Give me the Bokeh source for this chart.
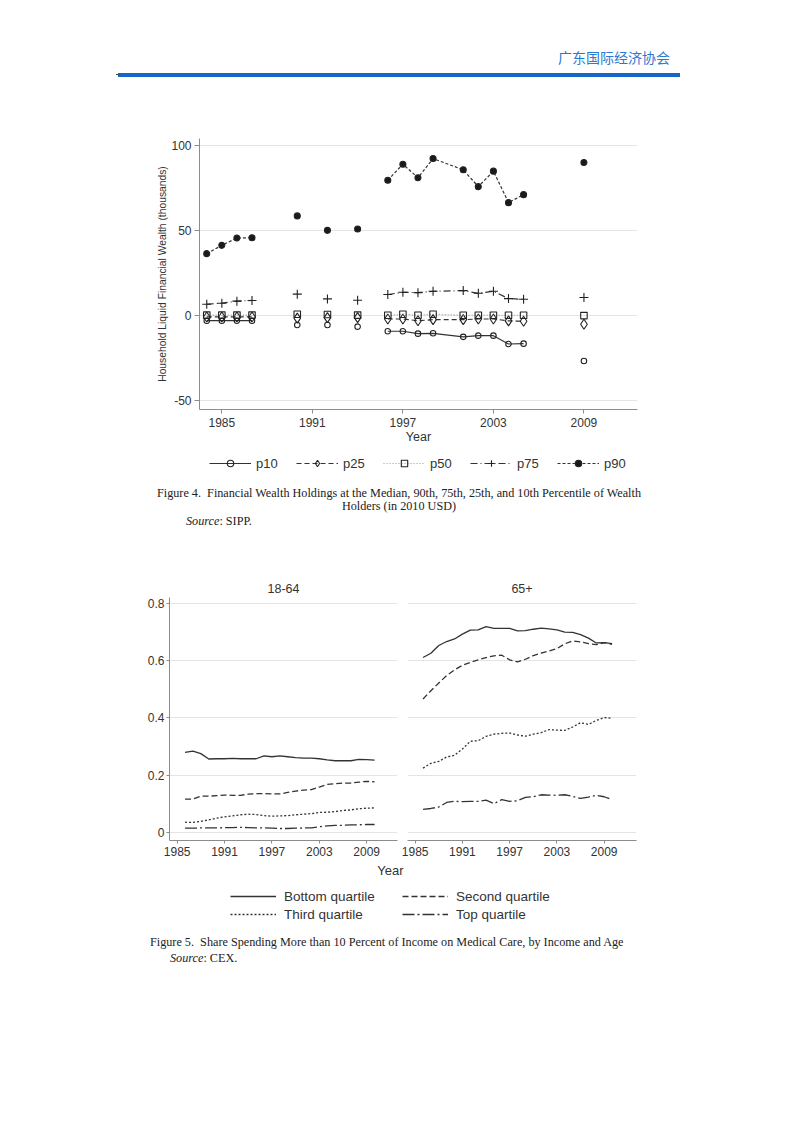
import numpy as np
from bokeh.plotting import figure
from bokeh.models import (Legend, LegendItem, FixedTicker, Div, NumeralTickFormatter, Label)
from bokeh.layouts import column, row
from bokeh.embed import file_html
from bokeh.resources import INLINE

# ---------------- Figure 4 data (thousands of 2010 USD) ----------------
years4 = [1984, 1985, 1986, 1987, 1990, 1992, 1994, 1996, 1997, 1998, 1999,
          2001, 2002, 2003, 2004, 2005, 2009]
panel4 = [1, 1, 1, 1, 2, 3, 4, 5, 5, 5, 5, 5, 5, 5, 5, 5, 6]
p10 = [-3.0, -3.0, -3.0, -3.0, -5.5, -5.5, -6.5, -9.2, -9.2, -10.6, -10.4,
       -12.5, -11.8, -11.8, -16.7, -16.5, -26.7]
p25 = [-0.8, -0.8, -0.8, -0.8, -1.5, -1.2, -1.2, -2.0, -2.0, -3.0, -2.4,
       -2.4, -2.0, -2.0, -3.1, -3.3, -5.1]
p50 = [0.3, 0.3, 0.3, 0.3, 0.8, 0.6, 0.3, 0.2, 0.8, 0.2, 0.8,
       0.2, 0.2, 0.2, 0.2, 0.2, 0.0]
p75 = [6.7, 7.3, 8.5, 8.9, 12.6, 9.8, 9.0, 12.4, 13.7, 13.5, 14.3,
       14.7, 13.1, 14.3, 10.0, 9.6, 10.6]
p90 = [36.4, 41.3, 45.6, 45.8, 58.6, 50.1, 50.9, 79.6, 89.0, 81.0, 92.3,
       85.7, 75.8, 84.9, 66.4, 71.1, 90.0]
series4 = ["p10", "p25", "p50", "p75", "p90"]
xticks4 = [1985, 1991, 1997, 2003, 2009]
yticks4 = [-50, 0, 50, 100]
ylabels4 = {-50: "-50", 0: "0", 50: "50", 100: "100"}

# ---------------- Figure 5 data (share) ----------------
years5 = [1986, 1987, 1988, 1989, 1990, 1991, 1992, 1993, 1994, 1995, 1996,
          1997, 1998, 1999, 2000, 2001, 2002, 2003, 2004, 2005, 2006, 2007,
          2008, 2009, 2010]
bottom_young = [0.279, 0.284, 0.275, 0.256, 0.257, 0.257, 0.258, 0.257, 0.257, 0.257,
                0.267, 0.264, 0.267, 0.264, 0.261, 0.259, 0.259, 0.257, 0.253, 0.250,
                0.250, 0.250, 0.255, 0.254, 0.252]
second_young = [0.116, 0.116, 0.126, 0.126, 0.128, 0.130, 0.129, 0.129, 0.133, 0.135,
                 0.135, 0.134, 0.134, 0.139, 0.144, 0.147, 0.149, 0.158, 0.167, 0.170,
                 0.172, 0.172, 0.175, 0.178, 0.176]
third_young = [0.035, 0.034, 0.038, 0.043, 0.049, 0.054, 0.057, 0.061, 0.063, 0.062,
               0.058, 0.056, 0.057, 0.058, 0.061, 0.063, 0.065, 0.069, 0.070, 0.072,
               0.076, 0.078, 0.082, 0.084, 0.085]
top_young = [0.014, 0.014, 0.015, 0.015, 0.015, 0.016, 0.016, 0.017, 0.016, 0.015,
             0.015, 0.014, 0.013, 0.013, 0.014, 0.015, 0.015, 0.019, 0.022, 0.024,
             0.024, 0.026, 0.026, 0.027, 0.027]
bottom_old = [0.611, 0.626, 0.653, 0.667, 0.676, 0.693, 0.707, 0.708, 0.719, 0.713,
              0.713, 0.713, 0.704, 0.705, 0.710, 0.714, 0.711, 0.708, 0.700, 0.699,
              0.691, 0.679, 0.662, 0.663, 0.660]
second_old = [0.466, 0.495, 0.522, 0.548, 0.568, 0.584, 0.594, 0.603, 0.611, 0.617,
              0.619, 0.603, 0.596, 0.605, 0.618, 0.626, 0.634, 0.642, 0.659, 0.669,
              0.666, 0.660, 0.656, 0.663, 0.657]
third_old = [0.224, 0.241, 0.248, 0.263, 0.269, 0.291, 0.318, 0.320, 0.335, 0.343,
             0.346, 0.347, 0.340, 0.336, 0.343, 0.348, 0.359, 0.357, 0.356, 0.368,
             0.383, 0.377, 0.391, 0.401, 0.399]
top_old = [0.080, 0.083, 0.088, 0.104, 0.108, 0.107, 0.108, 0.108, 0.112, 0.100,
           0.114, 0.108, 0.110, 0.122, 0.124, 0.131, 0.130, 0.129, 0.131, 0.125,
           0.118, 0.123, 0.129, 0.124, 0.114]
quartiles = ["Bottom quartile", "Second quartile", "Third quartile", "Top quartile"]
panels5 = ["18-64", "65+"]
xticks5 = [1985, 1991, 1997, 2003, 2009]
yticks5 = [0, 0.2, 0.4, 0.6, 0.8]

FONT = "Liberation Sans"
INK = "#333333"
AXIS = "#8c8c8c"
GRID = "#e4e4e4"


def broken(xs, ys, seg):
    bx, by = [], []
    for i, (x, y) in enumerate(zip(xs, ys)):
        if i > 0 and seg[i] != seg[i - 1]:
            bx.append(np.nan)
            by.append(np.nan)
        bx.append(x)
        by.append(y)
    return bx, by


def style_axis(ax, size="12px"):
    ax.axis_line_color = AXIS
    ax.major_tick_line_color = AXIS
    ax.minor_tick_line_color = None
    ax.major_label_text_font = FONT
    ax.major_label_text_font_size = size
    ax.major_label_text_color = INK
    ax.axis_label_text_font = FONT
    ax.axis_label_text_font_style = "normal"
    ax.axis_label_text_color = INK


def strip(height):
    f = figure(width=778, height=height, x_range=(0, 1), y_range=(0, 1),
               x_axis_type=None, y_axis_type=None,
               output_backend="svg", toolbar_location=None,
               min_border_left=191, min_border_right=149,
               min_border_top=0, min_border_bottom=0)
    f.outline_line_color = None
    f.xgrid.visible = False
    f.ygrid.visible = False
    return f


# ---------------- Header ----------------
header = Div(text="""
<div style="position:relative;width:778px;height:92px;">
 <div style="position:absolute;left:110px;top:65px;width:562px;height:4px;background:#1466c8;"></div>
 <div style="position:absolute;left:108px;top:66px;width:3px;height:1px;background:#444;"></div>
 <div style="position:absolute;right:116px;top:41px;font-family:'Noto Sans CJK SC';font-size:14px;line-height:16px;color:#2a78d2;white-space:nowrap;">广东国际经济协会</div>
</div>""", width=778, height=92, margin=0)

# ---------------- Figure 4 ----------------
p4 = figure(width=778, height=349, x_range=(1983.52, 2012.55), y_range=(-55.2, 104.1),
            output_backend="svg", toolbar_location=None,
            min_border_left=191, min_border_right=149, min_border_top=38, min_border_bottom=40)
p4.outline_line_color = None
p4.xgrid.visible = False
p4.ygrid.ticker = FixedTicker(ticks=yticks4)
p4.ygrid.grid_line_color = GRID
p4.xaxis.ticker = FixedTicker(ticks=xticks4)
p4.yaxis.ticker = FixedTicker(ticks=yticks4)
p4.yaxis.major_label_overrides = ylabels4
style_axis(p4.xaxis[0])
style_axis(p4.yaxis[0])
p4.xaxis.axis_label = "Year"
p4.xaxis.axis_label_text_font_size = "12.5px"
p4.xaxis.major_tick_out = 4
p4.xaxis.major_tick_in = 0
p4.xaxis.major_label_standoff = 4
p4.xaxis.axis_label_standoff = 0
p4.yaxis.axis_label = "Household Liquid Financial Wealth (thousands)"
p4.yaxis.axis_label_text_font_size = "10.3px"
p4.yaxis.major_tick_out = 5
p4.yaxis.major_tick_in = 0
p4.yaxis.major_label_standoff = 3
p4.yaxis.axis_label_standoff = 0

styles4 = {
    "p10": dict(dash="solid", lcol=INK, marker="circle", size=5.5, fill=None),
    "p25": dict(dash="5 3", lcol=INK, marker="diamond", size=10, fill=None),
    "p50": dict(dash="1 2", lcol="#9a9a9a", marker="square", size=6.5, fill=None),
    "p75": dict(dash="7 3 1 3", lcol=INK, marker="cross", size=9, fill=None),
    "p90": dict(dash="3 2", lcol=INK, marker="circle", size=6, fill="#1a1a1a"),
}
values4 = {"p10": p10, "p25": p25, "p50": p50, "p75": p75, "p90": p90}

# legend strip for figure 4 (keys only, no data drawn)
lg4 = strip(29)
items4 = []
for name in series4:
    st = styles4[name]
    bx, by = broken(years4, values4[name], panel4)
    p4.line(bx, by, line_color=st["lcol"], line_width=1.2, line_dash=st["dash"])
    p4.scatter(years4, values4[name], marker=st["marker"], size=st["size"],
               line_color="#222222", line_width=1.1,
               fill_color=st["fill"] if st["fill"] else None)
    kl = lg4.line(x=[np.nan], y=[np.nan], line_color=st["lcol"], line_width=1.2,
                  line_dash=st["dash"])
    ks = lg4.scatter(x=[np.nan], y=[np.nan], marker=st["marker"], size=st["size"],
                     line_color="#222222", line_width=1.1,
                     fill_color=st["fill"] if st["fill"] else None)
    items4.append(LegendItem(label=name, renderers=[kl, ks]))

leg4 = Legend(items=items4, location=(10, 7), orientation="horizontal",
              glyph_width=42, glyph_height=16, label_height=16, label_width=22,
              label_standoff=5, spacing=18, padding=0, margin=0,
              border_line_color=None, background_fill_alpha=0,
              label_text_font=FONT, label_text_font_size="13px", label_text_color=INK)
lg4.add_layout(leg4)

cap4 = Div(text="""
<div style="position:relative;width:778px;height:97px;font-family:'Liberation Serif';font-size:12.2px;line-height:14px;color:#222;">
 <div style="position:absolute;left:91px;width:600px;top:8px;text-align:center;white-space:nowrap;">Figure 4.&nbsp; Financial Wealth Holdings at the Median, 90th, 75th, 25th, and 10th Percentile of Wealth</div>
 <div style="position:absolute;left:91px;width:600px;top:21px;text-align:center;white-space:nowrap;">Holders (in 2010 USD)</div>
 <div style="position:absolute;left:178px;top:36px;white-space:nowrap;"><i>Source</i>: SIPP.</div>
</div>""", width=778, height=97, margin=0)

# ---------------- Figure 5 ----------------
dash5 = {"Bottom quartile": "solid", "Second quartile": "6 3",
         "Third quartile": "2 2", "Top quartile": "12 3 2 3"}
data5 = {
    "18-64": [bottom_young, second_young, third_young, top_young],
    "65+": [bottom_old, second_old, third_old, top_old],
}


def panel(title, left):
    kw = dict(output_backend="svg", toolbar_location=None,
              x_range=(1984.03, 2012.9 if left else 2013.1), y_range=(-0.029, 0.821),
              min_border_top=22, min_border_bottom=22, height=287)
    if left:
        p = figure(width=392, min_border_left=161, min_border_right=3, **kw)
    else:
        p = figure(width=242, min_border_left=7, min_border_right=6,
                   y_axis_location=None, **kw)
    p.outline_line_color = None
    p.xgrid.visible = False
    p.ygrid.ticker = FixedTicker(ticks=yticks5)
    p.ygrid.grid_line_color = GRID
    p.xaxis.ticker = FixedTicker(ticks=xticks5)
    style_axis(p.xaxis[0])
    p.xaxis.major_tick_out = 3
    p.xaxis.major_tick_in = 0
    p.xaxis.major_label_standoff = 3
    if left:
        p.yaxis.ticker = FixedTicker(ticks=yticks5)
        p.yaxis.formatter = NumeralTickFormatter(format="0.[0]")
        style_axis(p.yaxis[0])
        p.yaxis.major_tick_out = 3
        p.yaxis.major_tick_in = 0
        p.yaxis.major_label_standoff = 2
    p.title.text = title
    p.title.align = "center"
    p.title.text_font = FONT
    p.title.text_font_size = "12.5px"
    p.title.text_font_style = "normal"
    p.title.text_color = INK
    p.title.standoff = 10
    for q, vals in zip(quartiles, data5[title]):
        p.line(years5, vals, line_color=INK, line_width=1.3, line_dash=dash5[q])
    return p


f5l = panel(panels5[0], True)
f5r = panel(panels5[1], False)

# legend strip shared by both panels (frame aligned with figure 4's frame)
lf = strip(63)
lf.add_layout(Label(x=191, y=55, x_units="screen", y_units="screen", text="Year",
                    text_align="center", text_baseline="middle", text_font=FONT,
                    text_font_size="13px", text_color=INK))
items5 = []
for q in quartiles:
    r = lf.line(x=[np.nan], y=[np.nan], line_color=INK, line_width=1.3, line_dash=dash5[q])
    items5.append(LegendItem(label=q, renderers=[r]))
leg5 = Legend(items=items5, location=(31, 3), orientation="horizontal", ncols=2,
              glyph_width=46, glyph_height=16, label_height=16, label_width=116,
              label_standoff=8, spacing=2, padding=0, margin=0,
              border_line_color=None, background_fill_alpha=0,
              label_text_font=FONT, label_text_font_size="13.5px", label_text_color=INK)
lf.add_layout(leg5)

cap5 = Div(text="""
<div style="position:relative;width:778px;height:50px;font-family:'Liberation Serif';font-size:12.2px;line-height:14px;color:#222;">
 <div style="position:absolute;left:142px;top:10px;white-space:nowrap;">Figure 5.&nbsp; Share Spending More than 10 Percent of Income on Medical Care, by Income and Age</div>
 <div style="position:absolute;left:162px;top:26px;white-space:nowrap;"><i>Source</i>: CEX.</div>
</div>""", width=778, height=50, margin=0)

layout = column(header, p4, lg4, cap4, row(f5l, f5r), lf, cap5, margin=(8, 0, 0, 8))
open("out.html", "w").write(file_html(layout, INLINE))
